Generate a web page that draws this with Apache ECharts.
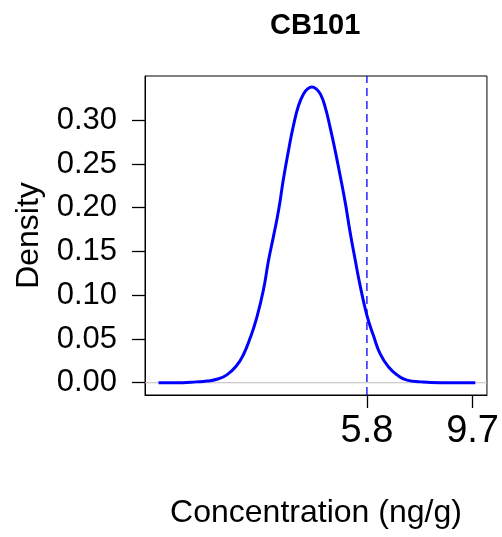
<!DOCTYPE html>
<html>
<head>
<meta charset="utf-8">
<script src="https://cdn.jsdelivr.net/npm/echarts@6/dist/echarts.min.js"></script>
<style>html,body{margin:0;padding:0;background:#fff}#c{width:502px;height:537px}</style>
</head>
<body>
<div id="c"></div>
<script>
var chartTitle = "CB101";
var xTickValues = [5.8, 9.7];
var yTickValues = [0, 0.05, 0.10, 0.15, 0.20, 0.25, 0.30];
var refLineX = 5.8;
var concentration = [-1.89, -1.0, -0.5, -0.11, 0.26, 0.63, 1.00, 1.24, 1.49, 1.74, 1.98, 2.17, 2.35, 2.54, 2.72, 2.91, 3.09, 3.28, 3.46, 3.62, 3.77, 3.92, 4.08, 4.26, 4.44, 4.63, 4.81, 5.00, 5.18, 5.37, 5.55, 5.80, 6.05, 6.29, 6.60, 6.91, 7.28, 7.77, 8.5, 9.2, 9.80];
var density = [0, 0, 0.001, 0.002, 0.004, 0.009, 0.020, 0.032, 0.051, 0.075, 0.106, 0.140, 0.167, 0.197, 0.233, 0.266, 0.294, 0.317, 0.330, 0.336, 0.338, 0.336, 0.330, 0.315, 0.292, 0.265, 0.237, 0.206, 0.172, 0.140, 0.111, 0.077, 0.053, 0.033, 0.018, 0.009, 0.003, 0.001, 0, 0, 0];

var X_MIN = -2.39, X_MAX = 10.23, Y_MIN = -0.014, Y_MAX = 0.3505;
var pts = concentration.map(function (x, i) { return [x, density[i]]; });
var FONT = "'Liberation Sans', Arial, sans-serif";
var chart = echarts.init(document.getElementById('c'), null, {renderer: 'canvas'});
chart.setOption({
  animation: false,
  backgroundColor: '#fff',
  title: {
    text: chartTitle, left: 265, top: 6,
    textStyle: {fontFamily: FONT, fontWeight: 'bold', fontSize: 29, color: '#000'}
  },
  grid: {left: 145, right: 15, top: 76, bottom: 142, show: true, borderColor: '#000', borderWidth: 1, backgroundColor: 'transparent'},
  xAxis: {
    type: 'value', min: X_MIN, max: X_MAX,
    name: 'Concentration (ng/g)', nameLocation: 'middle', nameGap: 102,
    nameTextStyle: {fontFamily: FONT, fontSize: 32, color: '#000'},
    axisLine: {show: true, onZero: false, lineStyle: {color: '#000', width: 1}},
    axisTick: {show: true, inside: false, length: 13, customValues: xTickValues, lineStyle: {color: '#000', width: 1.3}},
    axisLabel: {show: true, customValues: xTickValues, margin: 18, fontFamily: FONT, fontSize: 38, color: '#000',
      formatter: function (v) { return v.toFixed(1); }},
    splitLine: {show: false}
  },
  yAxis: {
    type: 'value', min: Y_MIN, max: Y_MAX,
    name: 'Density', nameLocation: 'middle', nameGap: 100,
    nameTextStyle: {fontFamily: FONT, fontSize: 32, color: '#000'},
    axisLine: {show: true, onZero: false, lineStyle: {color: '#000', width: 1}},
    axisTick: {show: true, inside: false, length: 13, customValues: yTickValues, lineStyle: {color: '#000', width: 1.3}},
    axisLabel: {show: true, customValues: yTickValues, margin: 28, fontFamily: FONT, fontSize: 31, color: '#000',
      formatter: function (v) { return v.toFixed(2); }},
    splitLine: {show: false}
  },
  series: [{
    type: 'line', silent: true, showSymbol: false, z: 1,
    data: [[X_MIN, 0], [X_MAX, 0]],
    lineStyle: {color: '#bebebe', width: 1.2, type: 'solid'}
  }, {
    type: 'line', data: pts, showSymbol: false, smooth: 0.5, z: 2,
    lineStyle: {color: '#0000ff', width: 3},
    itemStyle: {color: '#0000ff'}
  }, {
    type: 'line', silent: true, showSymbol: false, z: 3,
    data: [[refLineX, Y_MIN], [refLineX, Y_MAX]],
    lineStyle: {color: '#0000ff', width: 1.3, type: [8, 5]}
  }]
});
</script>
</body>
</html>
